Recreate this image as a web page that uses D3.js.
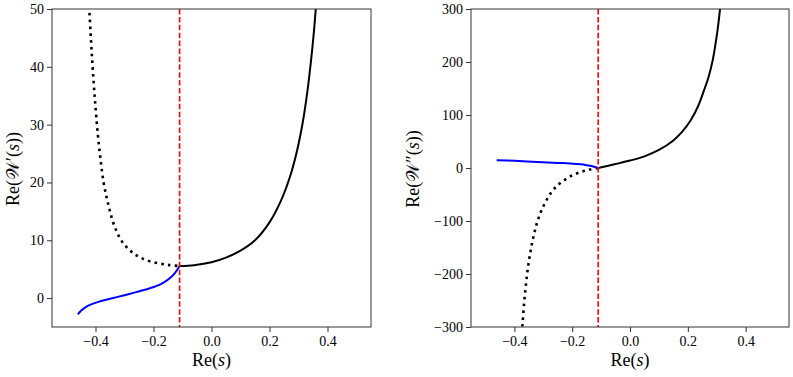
<!DOCTYPE html>
<html>
<head>
<meta charset="utf-8">
<script src="https://cdn.jsdelivr.net/npm/d3@7"></script>
<style>
  body { margin: 0; background: #fff; }
  svg { display: block; }
</style>
</head>
<body>
<div id="chart"></div>
<script>
// ---- data ----
// left panel: Re(W'(s))
const leftSolidX  = [-0.110, -0.060, 0.000, 0.050, 0.100, 0.150, 0.200, 0.240, 0.270, 0.295, 0.315, 0.330, 0.343, 0.353, 0.361];
const leftSolidY  = [5.55, 5.7, 6.2, 7.0, 8.2, 10.0, 13.1, 16.9, 20.9, 25.5, 30.5, 35.5, 41.0, 46.0, 51.0];
const leftDotX    = [-0.422, -0.416, -0.410, -0.403, -0.395, -0.385, -0.372, -0.355, -0.335, -0.310, -0.280, -0.245, -0.200, -0.150, -0.112];
const leftDotY    = [50.5, 45, 40, 35, 30, 25, 20, 16.0, 12.5, 9.9, 8.2, 7.0, 6.2, 5.75, 5.55];
const leftBlueX   = [-0.461, -0.450, -0.435, -0.415, -0.390, -0.360, -0.330, -0.300, -0.270, -0.240, -0.210, -0.180, -0.160, -0.140, -0.125, -0.110];
const leftBlueY   = [-2.8, -2.2, -1.6, -1.1, -0.65, -0.25, 0.12, 0.5, 0.9, 1.3, 1.75, 2.3, 2.85, 3.6, 4.4, 5.55];

// right panel: Re(W''(s))
const rightSolidX = [-0.110, -0.050, 0.000, 0.050, 0.100, 0.150, 0.180, 0.210, 0.235, 0.255, 0.272, 0.286, 0.296, 0.304, 0.311, 0.316];
const rightSolidY = [0, 7.5, 14, 22, 34, 52, 68, 90, 116, 145, 172, 203, 235, 265, 298, 325];
const rightDotX   = [-0.110, -0.140, -0.170, -0.200, -0.230, -0.255, -0.275, -0.295, -0.310, -0.323, -0.335, -0.345, -0.354, -0.361, -0.367, -0.372, -0.375];
const rightDotY   = [0, -3, -7.5, -14, -24, -35, -48, -67, -85, -106, -132, -160, -192, -225, -260, -297, -320];
const rightBlueX  = [-0.461, -0.400, -0.322, -0.250, -0.207, -0.170, -0.150, -0.130, -0.110];
const rightBlueY  = [14.7, 13.6, 11.5, 9.6, 8.5, 6.9, 5.3, 3.2, 0];

const sLine = -0.11;

const xTicks = [-0.4, -0.2, 0.0, 0.2, 0.4];
const leftYTicks = [0, 10, 20, 30, 40, 50];
const rightYTicks = [-300, -200, -100, 0, 100, 200, 300];

const W = 793, H = 377;
const serif = "Liberation Serif";
const svg = d3.select("#chart").append("svg").attr("width", W).attr("height", H);

const fmtX = d => d3.format(".1f")(d).replace("-", "\u2212");
const fmtY = d => String(d).replace("-", "\u2212");

function zip(xs, ys) { return xs.map((x, i) => [x, ys[i]]); }

function panel(opt) {
  const x = d3.scaleLinear().domain([-0.55, 0.55]).range([opt.x0, opt.x1]);
  const y = d3.scaleLinear().domain(opt.yDomain).range([327, 9]);

  const g = svg.append("g");
  const clipId = "clip" + opt.id;
  svg.append("clipPath").attr("id", clipId).append("rect")
    .attr("x", opt.x0).attr("y", 9).attr("width", opt.x1 - opt.x0).attr("height", 318);

  const line = d3.line().x(d => x(d[0])).y(d => y(d[1])).curve(d3.curveCatmullRom.alpha(0.5));
  const plot = g.append("g").attr("clip-path", `url(#${clipId})`);

  plot.append("path").attr("d", line(opt.dot))
    .attr("fill", "none").attr("stroke", "#000").attr("stroke-width", 2.6)
    .attr("stroke-dasharray", "2.6,4.2");
  plot.append("path").attr("d", line(opt.solid))
    .attr("fill", "none").attr("stroke", "#000").attr("stroke-width", 2);
  plot.append("path").attr("d", line(opt.blue))
    .attr("fill", "none").attr("stroke", "#0000ff").attr("stroke-width", 2);
  plot.append("line")
    .attr("x1", x(sLine)).attr("x2", x(sLine)).attr("y1", 9).attr("y2", 327)
    .attr("stroke", "#ff0000").attr("stroke-width", 1.6).attr("stroke-dasharray", "5.5,2.4");

  const ax = g.append("g").attr("transform", "translate(0,327)")
    .call(d3.axisBottom(x).tickValues(xTicks).tickFormat(fmtX).tickSize(5).tickPadding(4));
  const ay = g.append("g").attr("transform", `translate(${opt.x0},0)`)
    .call(d3.axisLeft(y).tickValues(opt.yTicks).tickFormat(fmtY).tickSize(5).tickPadding(3));
  [ax, ay].forEach(a => {
    a.attr("font-family", serif).attr("font-size", 14);
    a.select(".domain").remove();
    a.selectAll(".tick line").attr("stroke", "#333");
    a.selectAll(".tick text").attr("fill", "#000")
      .attr("font-family", serif).attr("font-size", 14);
  });

  g.append("rect").attr("x", opt.x0).attr("y", 9)
    .attr("width", opt.x1 - opt.x0).attr("height", 318)
    .attr("fill", "none").attr("stroke", "#333").attr("stroke-width", 1);

  const xl = g.append("text")
    .attr("font-family", serif).attr("font-size", 18)
    .attr("x", (opt.x0 + opt.x1) / 2).attr("y", 366).attr("text-anchor", "middle");
  xl.append("tspan").text("Re(");
  xl.append("tspan").attr("font-style", "italic").text("s");
  xl.append("tspan").text(")");

  const yl = g.append("text")
    .attr("font-family", serif).attr("font-size", 18)
    .attr("transform", `translate(${opt.labelX},169) rotate(-90)`).attr("text-anchor", "middle");
  yl.append("tspan").text("Re(");
  yl.append("tspan").text("\u{1D4B2}");
  yl.append("tspan").text(opt.prime + "(");
  yl.append("tspan").attr("font-style", "italic").text("s");
  yl.append("tspan").text("))");
}

panel({ id: "L", x0: 52, x1: 371, yDomain: [-5, 50], yTicks: leftYTicks, labelX: 19, prime: "\u2032",
  solid: zip(leftSolidX, leftSolidY), dot: zip(leftDotX, leftDotY), blue: zip(leftBlueX, leftBlueY) });
panel({ id: "R", x0: 471, x1: 789, yDomain: [-300, 300], yTicks: rightYTicks, labelX: 419, prime: "\u2033",
  solid: zip(rightSolidX, rightSolidY), dot: zip(rightDotX, rightDotY), blue: zip(rightBlueX, rightBlueY) });
</script>
</body>
</html>
